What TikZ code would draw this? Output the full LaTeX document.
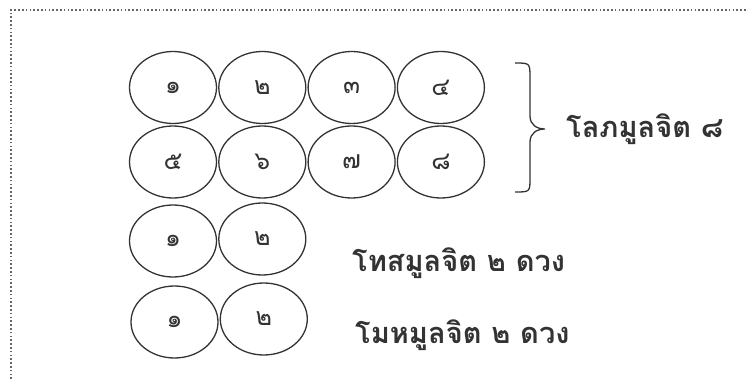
\documentclass[tikz,border=0pt]{standalone}
\usepackage{fontspec}
\newfontfamily\thaifont[Script=Thai]{Loma}
\usetikzlibrary{positioning,shapes.geometric}
\definecolor{inkgray}{HTML}{333333}
\definecolor{framegray}{HTML}{666666}

\begin{document}
\begin{tikzpicture}[
    x=1pt,y=-1pt,
    node distance=1pt,
    cit/.style={ellipse,draw=inkgray,line width=1.3pt,minimum width=87pt,minimum height=72pt,inner sep=0pt,font=\thaifont\fontsize{25}{28}\selectfont,text=inkgray},
    lbl/.style={anchor=west,inner sep=0pt,font=\thaifont\bfseries\fontsize{29}{33}\selectfont,text=inkgray},
    frame/.style={draw=framegray,line width=1.6pt,dash pattern=on 1.6pt off 2.2pt},
    brc/.style={draw=inkgray,line width=1.3pt}
]
\useasboundingbox (0,0) rectangle (747,379);
\draw[frame] (11,379) -- (11,10) -- (747,10);

% lobha: 8
\node[cit] (a1) at (173,87.5) {๑};
\node[cit,right=of a1] (a2) {๒};
\node[cit,right=of a2] (a3) {๓};
\node[cit,right=of a3] (a4) {๔};
\node[cit] (b1) at (173,162) {๕};
\node[cit,right=of b1] (b2) {๖};
\node[cit,right=of b2] (b3) {๗};
\node[cit,right=of b3] (b4) {๘};

% dosa: 2
\node[cit] (d1) at (173,241) {๑};
\node[cit,right=of d1,yshift=2pt] (d2) {๒};

% moha: 2
\node[cit] (m1) at (174.5,322) {๑};
\node[cit,right=of m1,yshift=3pt] (m2) {๒};

% brace
\coordinate (bt) at (515,63);
\coordinate (bb) at (515,192);
\coordinate (tip) at (545,129);
\draw[brc] (bt) .. controls (530,63) .. (530,78) -- (530,116)
    .. controls (530,125) and (537,129) .. (tip)
    .. controls (537,129) and (530,133) .. (530,142) -- (530,178)
    .. controls (530,192) .. (bb);

\node[lbl,right=21pt of tip] (lobha) {โลภมูลจิต ๘};
\node[lbl] (dosa) at (352,263) {โทสมูลจิต ๒ ดวง};
\node[lbl] (moha) at (355,335) {โมหมูลจิต ๒ ดวง};
\end{tikzpicture}
\end{document}
